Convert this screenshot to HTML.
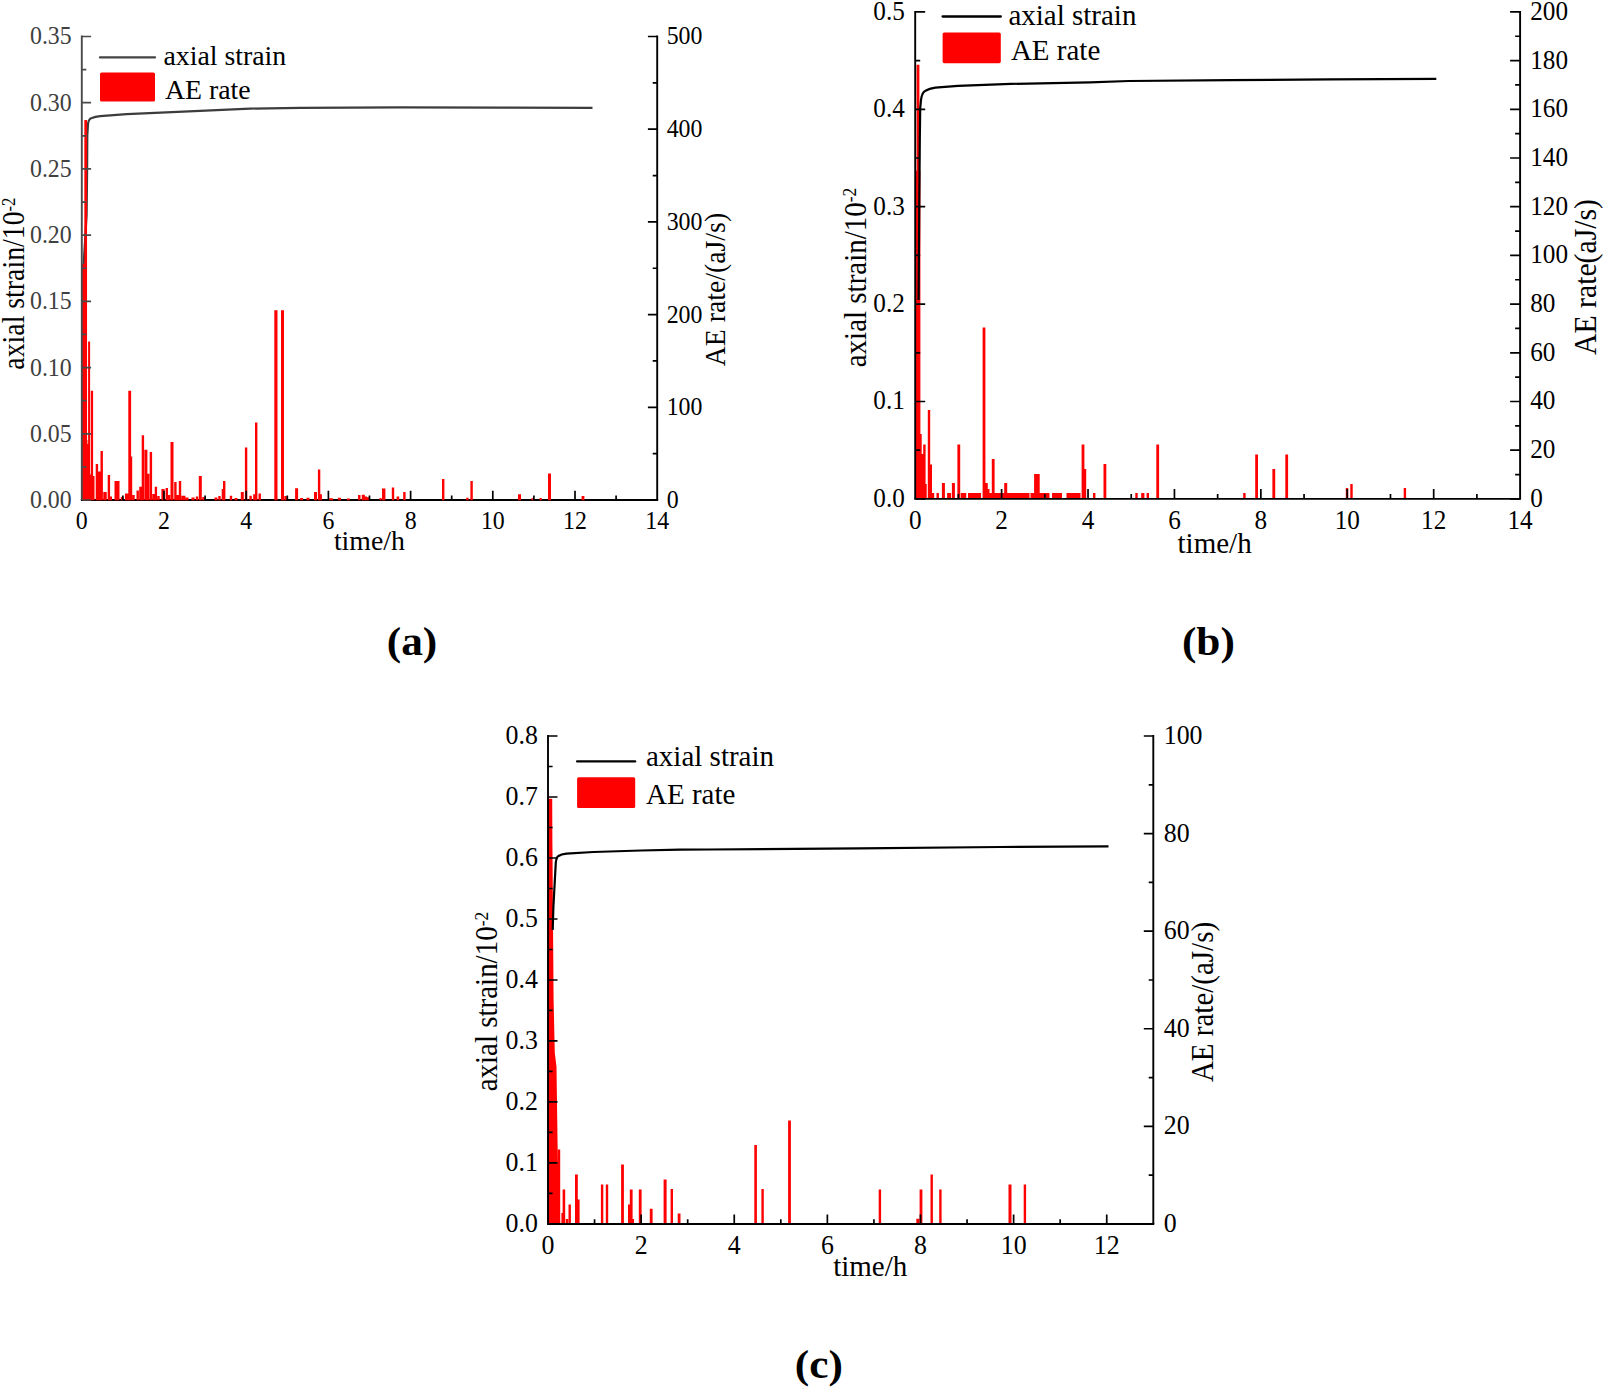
<!DOCTYPE html>
<html lang="en">
<head>
<meta charset="utf-8">
<title>Axial strain and AE rate versus time</title>
<style>
html,body{margin:0;padding:0;background:#fff;}
body{width:1605px;height:1389px;overflow:hidden;font-family:"Liberation Serif", "DejaVu Serif", serif;}
svg{display:block;}
</style>
</head>
<body>
<svg width="1605" height="1389" viewBox="0 0 1605 1389" font-family='"Liberation Serif", "DejaVu Serif", serif'>
<g>
<path d="M83.6 265 L86.6 215 L87.1 170 L87.3 135.4 L88.1 123.3 Q89 118.5 91.9 118 Q95 116.6 100.2 116.1 L126.7 114.2 L160.7 112.7 L200 110.8 L250 108.6 L300 107.8 L400 107.4 L500 107.6 L592.5 107.8" fill="none" stroke="#3c3c3c" stroke-width="2.2" stroke-linejoin="round" stroke-linecap="butt"/>
<line x1="80.85" y1="500" x2="658.15" y2="500" stroke="#000" stroke-width="1.9"/>
<path d="M84.35 500.15V119.9H87.05V500.15ZM82 500.15V264H84.6V500.15ZM81.95 500.15V440H87.45V500.15ZM88.1 500.15V341.6H90.1V500.15ZM90.8 500.15V390.7H93.1V500.15ZM86 500.15V444H89V500.15ZM88.9 500.15V474.5H91.9V500.15ZM92.3 500.15V476H94.5V500.15ZM95.7 500.15V464H98.1V500.15ZM97.9 500.15V471.6H101.1V500.15ZM100.5 500.15V451H102.9V500.15ZM103.25 500.15V492H106.75V500.15ZM107.7 500.15V475H110.1V500.15ZM109.6 500.15V496.5H112V500.15ZM114.5 500.15V481H119.5V500.15ZM120.8 500.15V497H123.2V500.15ZM124.95 500.15V493.5H128.45V500.15ZM128.3 500.15V390.7H131.1V500.15ZM130.4 500.15V456.5H132.2V500.15ZM132.3 500.15V495H134.7V500.15ZM136.5 500.15V490.5H138.9V500.15ZM139.2 500.15V486.7H142.2V500.15ZM141.7 500.15V435.3H144.1V500.15ZM144.4 500.15V449.7H147.4V500.15ZM147.2 500.15V473.8H149.4V500.15ZM149.7 500.15V452H152.1V500.15ZM152.3 500.15V494H154.7V500.15ZM154.7 500.15V486.7H157.1V500.15ZM157.3 500.15V496H159.7V500.15ZM161.4 500.15V489H164.6V500.15ZM165.6 500.15V488H168V500.15ZM167.8 500.15V495H170.2V500.15ZM170.5 500.15V442H173.5V500.15ZM174.2 500.15V482H176.6V500.15ZM176.5 500.15V495H178.9V500.15ZM178.8 500.15V481H181.2V500.15ZM181.4 500.15V495.8H185.4V500.15ZM185.5 500.15V497.5H188.5V500.15ZM191.5 500.15V497.5H194.5V500.15ZM195.8 500.15V496.5H198.2V500.15ZM198.8 500.15V476H201.8V500.15ZM202.3 500.15V497H204.7V500.15ZM214.5 500.15V497.5H217.5V500.15ZM218.3 500.15V496H220.7V500.15ZM221.7 500.15V489H223.7V500.15ZM223 500.15V481H225.4V500.15ZM229.8 500.15V495.8H232.2V500.15ZM234.5 500.15V498H237.5V500.15ZM240.8 500.15V492H243.8V500.15ZM244.9 500.15V447.4H247.3V500.15ZM249.4 500.15V495.8H251.8V500.15ZM253.2 500.15V494.3H255.6V500.15ZM255 500.15V422.4H257.4V500.15ZM258.5 500.15V493.5H260.9V500.15ZM274.3 500.15V310.3H277.5V500.15ZM281 500.15V310.3H284V500.15ZM284.3 500.15V496H286.7V500.15ZM295.1 500.15V488.2H298.1V500.15ZM300.1 500.15V498H303.1V500.15ZM306.5 500.15V497.8H309.5V500.15ZM314 500.15V492H317V500.15ZM317.9 500.15V469.6H320.3V500.15ZM319.9 500.15V494.2H321.9V500.15ZM329 500.15V498.3H333V500.15ZM337.9 500.15V497.8H340.9V500.15ZM346.9 500.15V498.4H349.9V500.15ZM358.1 500.15V495H360.5V500.15ZM361.8 500.15V494.7H364.8V500.15ZM364.6 500.15V496.5H367V500.15ZM366.6 500.15V497.3H369V500.15ZM379.5 500.15V498H381.5V500.15ZM382 500.15V488.5H385.4V500.15ZM391.8 500.15V487.5H394.2V500.15ZM396.6 500.15V496.5H399.2V500.15ZM403.2 500.15V492H405.6V500.15ZM442 500.15V479.1H444.4V500.15ZM466.2 500.15V497.8H468.6V500.15ZM470.4 500.15V481H472.8V500.15ZM518 500.15V494.3H521V500.15ZM531.3 500.15V498.3H533.7V500.15ZM539.5 500.15V498H541.9V500.15ZM548 500.15V473.5H551V500.15ZM581.6 500.15V496H584.4V500.15Z" fill="#fe0000"/>
<line x1="81.8" y1="35.55" x2="81.8" y2="500" stroke="#4a4a4a" stroke-width="1.9"/>
<line x1="657.2" y1="35.55" x2="657.2" y2="500" stroke="#000" stroke-width="1.9"/>
<path d="M122.9 500V495.5M164 500V490.7M205.1 500V495.5M246.2 500V490.7M287.3 500V495.5M328.4 500V490.7M369.5 500V495.5M410.6 500V490.7M451.7 500V495.5M492.8 500V490.7M533.9 500V495.5M575 500V490.7M616.1 500V495.5" stroke="#000" stroke-width="1.7" fill="none"/>
<path d="M81.8 500H91.1M81.8 466.89H86.3M81.8 433.79H91.1M81.8 400.68H86.3M81.8 367.57H91.1M81.8 334.46H86.3M81.8 301.36H91.1M81.8 268.25H86.3M81.8 235.14H91.1M81.8 202.04H86.3M81.8 168.93H91.1M81.8 135.82H86.3M81.8 102.71H91.1M81.8 69.61H86.3M81.8 36.5H91.1" stroke="#4a4a4a" stroke-width="1.7" fill="none"/>
<path d="M657.2 500H647.9M657.2 453.65H652.7M657.2 407.3H647.9M657.2 360.95H652.7M657.2 314.6H647.9M657.2 268.25H652.7M657.2 221.9H647.9M657.2 175.55H652.7M657.2 129.2H647.9M657.2 82.85H652.7M657.2 36.5H647.9" stroke="#000" stroke-width="1.7" fill="none"/>
<g font-size="24.7" fill="#404040" text-anchor="end">
<text transform="translate(71.7 507.99) scale(0.965 1)">0.00</text>
<text transform="translate(71.7 441.77) scale(0.965 1)">0.05</text>
<text transform="translate(71.7 375.56) scale(0.965 1)">0.10</text>
<text transform="translate(71.7 309.35) scale(0.965 1)">0.15</text>
<text transform="translate(71.7 243.13) scale(0.965 1)">0.20</text>
<text transform="translate(71.7 176.92) scale(0.965 1)">0.25</text>
<text transform="translate(71.7 110.7) scale(0.965 1)">0.30</text>
<text transform="translate(71.7 44.49) scale(0.965 1)">0.35</text>
</g>
<g font-size="24.7" fill="#000" text-anchor="start">
<text transform="translate(666.7 507.99) scale(0.965 1)">0</text>
<text transform="translate(666.7 415.29) scale(0.965 1)">100</text>
<text transform="translate(666.7 322.59) scale(0.965 1)">200</text>
<text transform="translate(666.7 229.89) scale(0.965 1)">300</text>
<text transform="translate(666.7 137.19) scale(0.965 1)">400</text>
<text transform="translate(666.7 44.49) scale(0.965 1)">500</text>
</g>
<g font-size="24.7" fill="#000" text-anchor="middle">
<text transform="translate(81.8 529) scale(0.965 1)">0</text>
<text transform="translate(164 529) scale(0.965 1)">2</text>
<text transform="translate(246.2 529) scale(0.965 1)">4</text>
<text transform="translate(328.4 529) scale(0.965 1)">6</text>
<text transform="translate(410.6 529) scale(0.965 1)">8</text>
<text transform="translate(492.8 529) scale(0.965 1)">10</text>
<text transform="translate(575 529) scale(0.965 1)">12</text>
<text transform="translate(657.2 529) scale(0.965 1)">14</text>
</g>
<g font-size="27.8" fill="#000" text-anchor="middle">
<text x="369.4" y="550.2">time/h</text>
<text transform="translate(24 283.6) rotate(-90) scale(1 1.12)">axial strain/10<tspan font-size="16.68" dy="-8.34">-2</tspan></text>
<text font-size="27.8" transform="translate(725 289.6) rotate(-90) scale(1 1.06)">AE rate/(aJ/s)</text>
</g>
<line x1="100" x2="155" y1="57.4" y2="57.4" stroke="#444" stroke-width="2.3" stroke-linecap="round"/>
<rect x="100" y="72.5" width="55" height="29" rx="1.6" fill="#fe0000"/>
<g font-size="27.8" fill="#000">
<text x="163.5" y="64.9">axial strain</text>
<text x="164.9" y="99.2">AE rate</text>
</g>
<text transform="translate(412 654.8) scale(1.07 0.99)" font-size="40.5" font-weight="bold" text-anchor="middle" fill="#000">(a)</text>
</g>
<g>
<path d="M916.6 498.7V64.7H919.4V498.7ZM915.6 498.7V170.8H920.4V498.7ZM915.5 498.7V434H921.7V498.7ZM923.2 498.7V444.5H925.6V498.7ZM921 498.7V454H924V498.7ZM925.1 498.7V484H926.7V498.7ZM927.8 498.7V410.1H930.2V498.7ZM930 498.7V464.4H932V498.7ZM931.2 498.7V493.1H934.2V498.7ZM936.5 498.7V493.1H938.9V498.7ZM941.9 498.7V483.1H944.9V498.7ZM947.1 498.7V493.1H951.1V498.7ZM951.9 498.7V483.1H954.9V498.7ZM957.4 498.7V444.5H960.2V498.7ZM960.75 498.7V493.1H966.25V498.7ZM968 498.7V493.1H981V498.7ZM982.6 498.7V327.4H985.4V498.7ZM985.2 498.7V483H987.8V498.7ZM987.5 498.7V489H989.5V498.7ZM991.8 498.7V459H994.6V498.7ZM985 498.7V493.1H1007V498.7ZM1004.2 498.7V483H1007.2V498.7ZM1006.5 498.7V493.1H1029.5V498.7ZM1034.1 498.7V473.9H1039.7V498.7ZM1030.5 498.7V493.1H1049.5V498.7ZM1052 498.7V493.1H1062V498.7ZM1066.5 498.7V493.1H1080.5V498.7ZM1081.6 498.7V444.5H1084.4V498.7ZM1084.2 498.7V469H1086.2V498.7ZM1093 498.7V493.1H1095.4V498.7ZM1103.5 498.7V464H1106.3V498.7ZM1135.3 498.7V493.1H1137.7V498.7ZM1141.2 498.7V493.1H1144.4V498.7ZM1146.6 498.7V493.1H1149V498.7ZM1156.3 498.7V444.5H1159.1V498.7ZM1243.2 498.7V493.1H1245.6V498.7ZM1255.2 498.7V454.5H1258V498.7ZM1272.4 498.7V468.9H1275.2V498.7ZM1285.3 498.7V454.5H1288.1V498.7ZM1345.8 498.7V488H1348.2V498.7ZM1350.3 498.7V483.9H1352.7V498.7ZM1403.7 498.7V488H1406.1V498.7Z" fill="#fe0000"/>
<line x1="914.25" y1="498.9" x2="1521.05" y2="498.9" stroke="#000" stroke-width="1.9"/>
<line x1="915.2" y1="10.95" x2="915.2" y2="498.9" stroke="#000" stroke-width="1.9"/>
<line x1="1520.1" y1="10.95" x2="1520.1" y2="498.9" stroke="#000" stroke-width="1.9"/>
<path d="M958.41 498.9V493.9M1001.61 498.9V488.9M1044.82 498.9V493.9M1088.03 498.9V488.9M1131.24 498.9V493.9M1174.44 498.9V488.9M1217.65 498.9V493.9M1260.86 498.9V488.9M1304.06 498.9V493.9M1347.27 498.9V488.9M1390.48 498.9V493.9M1433.69 498.9V488.9M1476.89 498.9V493.9" stroke="#000" stroke-width="1.7" fill="none"/>
<path d="M915.2 498.9H925.2M915.2 450.2H920.2M915.2 401.5H925.2M915.2 352.8H920.2M915.2 304.1H925.2M915.2 255.4H920.2M915.2 206.7H925.2M915.2 158H920.2M915.2 109.3H925.2M915.2 60.6H920.2M915.2 11.9H925.2" stroke="#000" stroke-width="1.7" fill="none"/>
<path d="M1520.1 498.9H1510.1M1520.1 474.55H1515.1M1520.1 450.2H1510.1M1520.1 425.85H1515.1M1520.1 401.5H1510.1M1520.1 377.15H1515.1M1520.1 352.8H1510.1M1520.1 328.45H1515.1M1520.1 304.1H1510.1M1520.1 279.75H1515.1M1520.1 255.4H1510.1M1520.1 231.05H1515.1M1520.1 206.7H1510.1M1520.1 182.35H1515.1M1520.1 158H1510.1M1520.1 133.65H1515.1M1520.1 109.3H1510.1M1520.1 84.95H1515.1M1520.1 60.6H1510.1M1520.1 36.25H1515.1M1520.1 11.9H1510.1" stroke="#000" stroke-width="1.7" fill="none"/>
<path d="M918.6 300 L919.3 200 L919.8 140 L920.2 108.5 L921 100 Q922 92 925.5 90.7 Q929 88.6 935.4 87.7 L958 85.9 L1010.9 83.9 L1090 82.4 L1129 81 L1230 80.2 L1330 79.3 L1436.3 78.8" fill="none" stroke="#000" stroke-width="2.2" stroke-linejoin="round" stroke-linecap="butt"/>
<g font-size="26.8" fill="#000" text-anchor="end">
<text transform="translate(904.8 506.83) scale(0.94 1)">0.0</text>
<text transform="translate(904.8 409.43) scale(0.94 1)">0.1</text>
<text transform="translate(904.8 312.03) scale(0.94 1)">0.2</text>
<text transform="translate(904.8 214.63) scale(0.94 1)">0.3</text>
<text transform="translate(904.8 117.23) scale(0.94 1)">0.4</text>
<text transform="translate(904.8 19.83) scale(0.94 1)">0.5</text>
</g>
<g font-size="26.8" fill="#000" text-anchor="start">
<text transform="translate(1530.2 506.83) scale(0.94 1)">0</text>
<text transform="translate(1530.2 458.13) scale(0.94 1)">20</text>
<text transform="translate(1530.2 409.43) scale(0.94 1)">40</text>
<text transform="translate(1530.2 360.73) scale(0.94 1)">60</text>
<text transform="translate(1530.2 312.03) scale(0.94 1)">80</text>
<text transform="translate(1530.2 263.33) scale(0.94 1)">100</text>
<text transform="translate(1530.2 214.63) scale(0.94 1)">120</text>
<text transform="translate(1530.2 165.93) scale(0.94 1)">140</text>
<text transform="translate(1530.2 117.23) scale(0.94 1)">160</text>
<text transform="translate(1530.2 68.53) scale(0.94 1)">180</text>
<text transform="translate(1530.2 19.83) scale(0.94 1)">200</text>
</g>
<g font-size="26.8" fill="#000" text-anchor="middle">
<text transform="translate(915.2 529.2) scale(0.94 1)">0</text>
<text transform="translate(1001.61 529.2) scale(0.94 1)">2</text>
<text transform="translate(1088.03 529.2) scale(0.94 1)">4</text>
<text transform="translate(1174.44 529.2) scale(0.94 1)">6</text>
<text transform="translate(1260.86 529.2) scale(0.94 1)">8</text>
<text transform="translate(1347.27 529.2) scale(0.94 1)">10</text>
<text transform="translate(1433.69 529.2) scale(0.94 1)">12</text>
<text transform="translate(1520.1 529.2) scale(0.94 1)">14</text>
</g>
<g font-size="29.0" fill="#000" text-anchor="middle">
<text x="1214.6" y="553.3">time/h</text>
<text transform="translate(865.8 277.5) rotate(-90) scale(1 1.1)">axial strain/10<tspan font-size="17.4" dy="-8.7">-2</tspan></text>
<text font-size="29.7" transform="translate(1596.2 277) rotate(-90) scale(1 1.06)">AE rate(aJ/s)</text>
</g>
<line x1="942.6" x2="1000.8" y1="16.5" y2="16.5" stroke="#000" stroke-width="2.3" stroke-linecap="round"/>
<rect x="942.6" y="32.5" width="58.2" height="30.7" rx="1.6" fill="#fe0000"/>
<g font-size="29.0" fill="#000">
<text x="1008.4" y="24.8">axial strain</text>
<text x="1010.9" y="60.4">AE rate</text>
</g>
<text transform="translate(1208.4 654.8) scale(1.07 0.99)" font-size="40.5" font-weight="bold" text-anchor="middle" fill="#000">(b)</text>
</g>
<g>
<path d="M562.6 1223.75V1189.4H565.2V1223.75ZM561.4 1223.75V1213H562.8V1223.75ZM565.8 1223.75V1219H568.2V1223.75ZM568.5 1223.75V1204.4H570.9V1223.75ZM575 1223.75V1174.5H577.8V1223.75ZM577.6 1223.75V1199.4H579.6V1223.75ZM600.9 1223.75V1184.4H603.3V1223.75ZM605.8 1223.75V1184.4H608.2V1223.75ZM621.1 1223.75V1164.5H623.9V1223.75ZM628 1223.75V1204.4H630V1223.75ZM629.8 1223.75V1189.4H632.6V1223.75ZM632 1223.75V1219H634V1223.75ZM638.8 1223.75V1189.4H641.6V1223.75ZM649.8 1223.75V1208.8H652.6V1223.75ZM663.6 1223.75V1179.4H666.6V1223.75ZM670.6 1223.75V1188.9H673V1223.75ZM677.7 1223.75V1213.6H680.5V1223.75ZM754.3 1223.75V1145H756.9V1223.75ZM761.4 1223.75V1188.9H763.8V1223.75ZM788.1 1223.75V1120.6H790.9V1223.75ZM878.7 1223.75V1189.4H881.1V1223.75ZM916.3 1223.75V1218.8H919.3V1223.75ZM919.6 1223.75V1189.4H922.4V1223.75ZM930.5 1223.75V1174.5H932.9V1223.75ZM939.2 1223.75V1189.4H941.6V1223.75ZM1008.5 1223.75V1184.4H1011.5V1223.75ZM1023.7 1223.75V1184.4H1026.1V1223.75ZM557.6 1223.75V1149.5H560.2V1223.75Z" fill="#fe0000"/>
<polygon points="547.8,1223.6 547.8,798.7 552.2,798.7 552.4,842 553.6,1000 554.8,1053 556.5,1066.8 557.8,1160 559.2,1200 560.2,1223.6" fill="#fe0000"/>
<line x1="547.05" y1="1223.95" x2="1154.25" y2="1223.95" stroke="#000" stroke-width="1.9"/>
<line x1="548" y1="735.05" x2="548" y2="1223.95" stroke="#000" stroke-width="1.9"/>
<line x1="1153.3" y1="735.05" x2="1153.3" y2="1223.95" stroke="#000" stroke-width="1.9"/>
<path d="M594.56 1223.95V1219.35M641.12 1223.95V1214.45M687.68 1223.95V1219.35M734.25 1223.95V1214.45M780.81 1223.95V1219.35M827.37 1223.95V1214.45M873.93 1223.95V1219.35M920.49 1223.95V1214.45M967.05 1223.95V1219.35M1013.62 1223.95V1214.45M1060.18 1223.95V1219.35M1106.74 1223.95V1214.45" stroke="#000" stroke-width="1.7" fill="none"/>
<path d="M548 1223.95H557.5M548 1193.45H552.6M548 1162.96H557.5M548 1132.46H552.6M548 1101.96H557.5M548 1071.47H552.6M548 1040.97H557.5M548 1010.47H552.6M548 979.98H557.5M548 949.48H552.6M548 918.98H557.5M548 888.48H552.6M548 857.99H557.5M548 827.49H552.6M548 796.99H557.5M548 766.5H552.6M548 736H557.5" stroke="#000" stroke-width="1.7" fill="none"/>
<path d="M1153.3 1223.95H1143.8M1153.3 1175.15H1148.7M1153.3 1126.36H1143.8M1153.3 1077.57H1148.7M1153.3 1028.77H1143.8M1153.3 979.98H1148.7M1153.3 931.18H1143.8M1153.3 882.38H1148.7M1153.3 833.59H1143.8M1153.3 784.8H1148.7M1153.3 736H1143.8" stroke="#000" stroke-width="1.7" fill="none"/>
<path d="M552.7 930 L553.4 906.7 L555.8 862.4 Q556.5 856.8 558.5 856 Q561 854.3 566.4 853.7 L593.4 852 L640.9 850.5 L680 849.7 L709 849.5 L860 848.3 L1000 847 L1108.5 846.4" fill="none" stroke="#000" stroke-width="2.2" stroke-linejoin="round" stroke-linecap="butt"/>
<g font-size="26.8" fill="#000" text-anchor="end">
<text transform="translate(537.9 1231.88) scale(0.965 1)">0.0</text>
<text transform="translate(537.9 1170.88) scale(0.965 1)">0.1</text>
<text transform="translate(537.9 1109.89) scale(0.965 1)">0.2</text>
<text transform="translate(537.9 1048.9) scale(0.965 1)">0.3</text>
<text transform="translate(537.9 987.9) scale(0.965 1)">0.4</text>
<text transform="translate(537.9 926.91) scale(0.965 1)">0.5</text>
<text transform="translate(537.9 865.91) scale(0.965 1)">0.6</text>
<text transform="translate(537.9 804.92) scale(0.965 1)">0.7</text>
<text transform="translate(537.9 743.93) scale(0.965 1)">0.8</text>
</g>
<g font-size="26.8" fill="#000" text-anchor="start">
<text transform="translate(1163.7 1231.88) scale(0.965 1)">0</text>
<text transform="translate(1163.7 1134.29) scale(0.965 1)">20</text>
<text transform="translate(1163.7 1036.7) scale(0.965 1)">40</text>
<text transform="translate(1163.7 939.11) scale(0.965 1)">60</text>
<text transform="translate(1163.7 841.52) scale(0.965 1)">80</text>
<text transform="translate(1163.7 743.93) scale(0.965 1)">100</text>
</g>
<g font-size="26.8" fill="#000" text-anchor="middle">
<text transform="translate(548 1254.2) scale(0.965 1)">0</text>
<text transform="translate(641.12 1254.2) scale(0.965 1)">2</text>
<text transform="translate(734.25 1254.2) scale(0.965 1)">4</text>
<text transform="translate(827.37 1254.2) scale(0.965 1)">6</text>
<text transform="translate(920.49 1254.2) scale(0.965 1)">8</text>
<text transform="translate(1013.62 1254.2) scale(0.965 1)">10</text>
<text transform="translate(1106.74 1254.2) scale(0.965 1)">12</text>
</g>
<g font-size="29.0" fill="#000" text-anchor="middle">
<text x="870.2" y="1276">time/h</text>
<text transform="translate(497.4 1001.6) rotate(-90) scale(1 1.1)">axial strain/10<tspan font-size="17.4" dy="-8.7">-2</tspan></text>
<text font-size="29.0" transform="translate(1212.5 1002) rotate(-90) scale(1 1.06)">AE rate/(aJ/s)</text>
</g>
<line x1="577.1" x2="635.2" y1="761.4" y2="761.4" stroke="#000" stroke-width="2.3" stroke-linecap="round"/>
<rect x="577.1" y="777.2" width="58.1" height="30.9" rx="1.6" fill="#fe0000"/>
<g font-size="29.0" fill="#000">
<text x="646" y="765.6">axial strain</text>
<text x="646" y="804">AE rate</text>
</g>
<text transform="translate(818.9 1378) scale(1.07 0.99)" font-size="40.5" font-weight="bold" text-anchor="middle" fill="#000">(c)</text>
</g>
</svg>
</body>
</html>
